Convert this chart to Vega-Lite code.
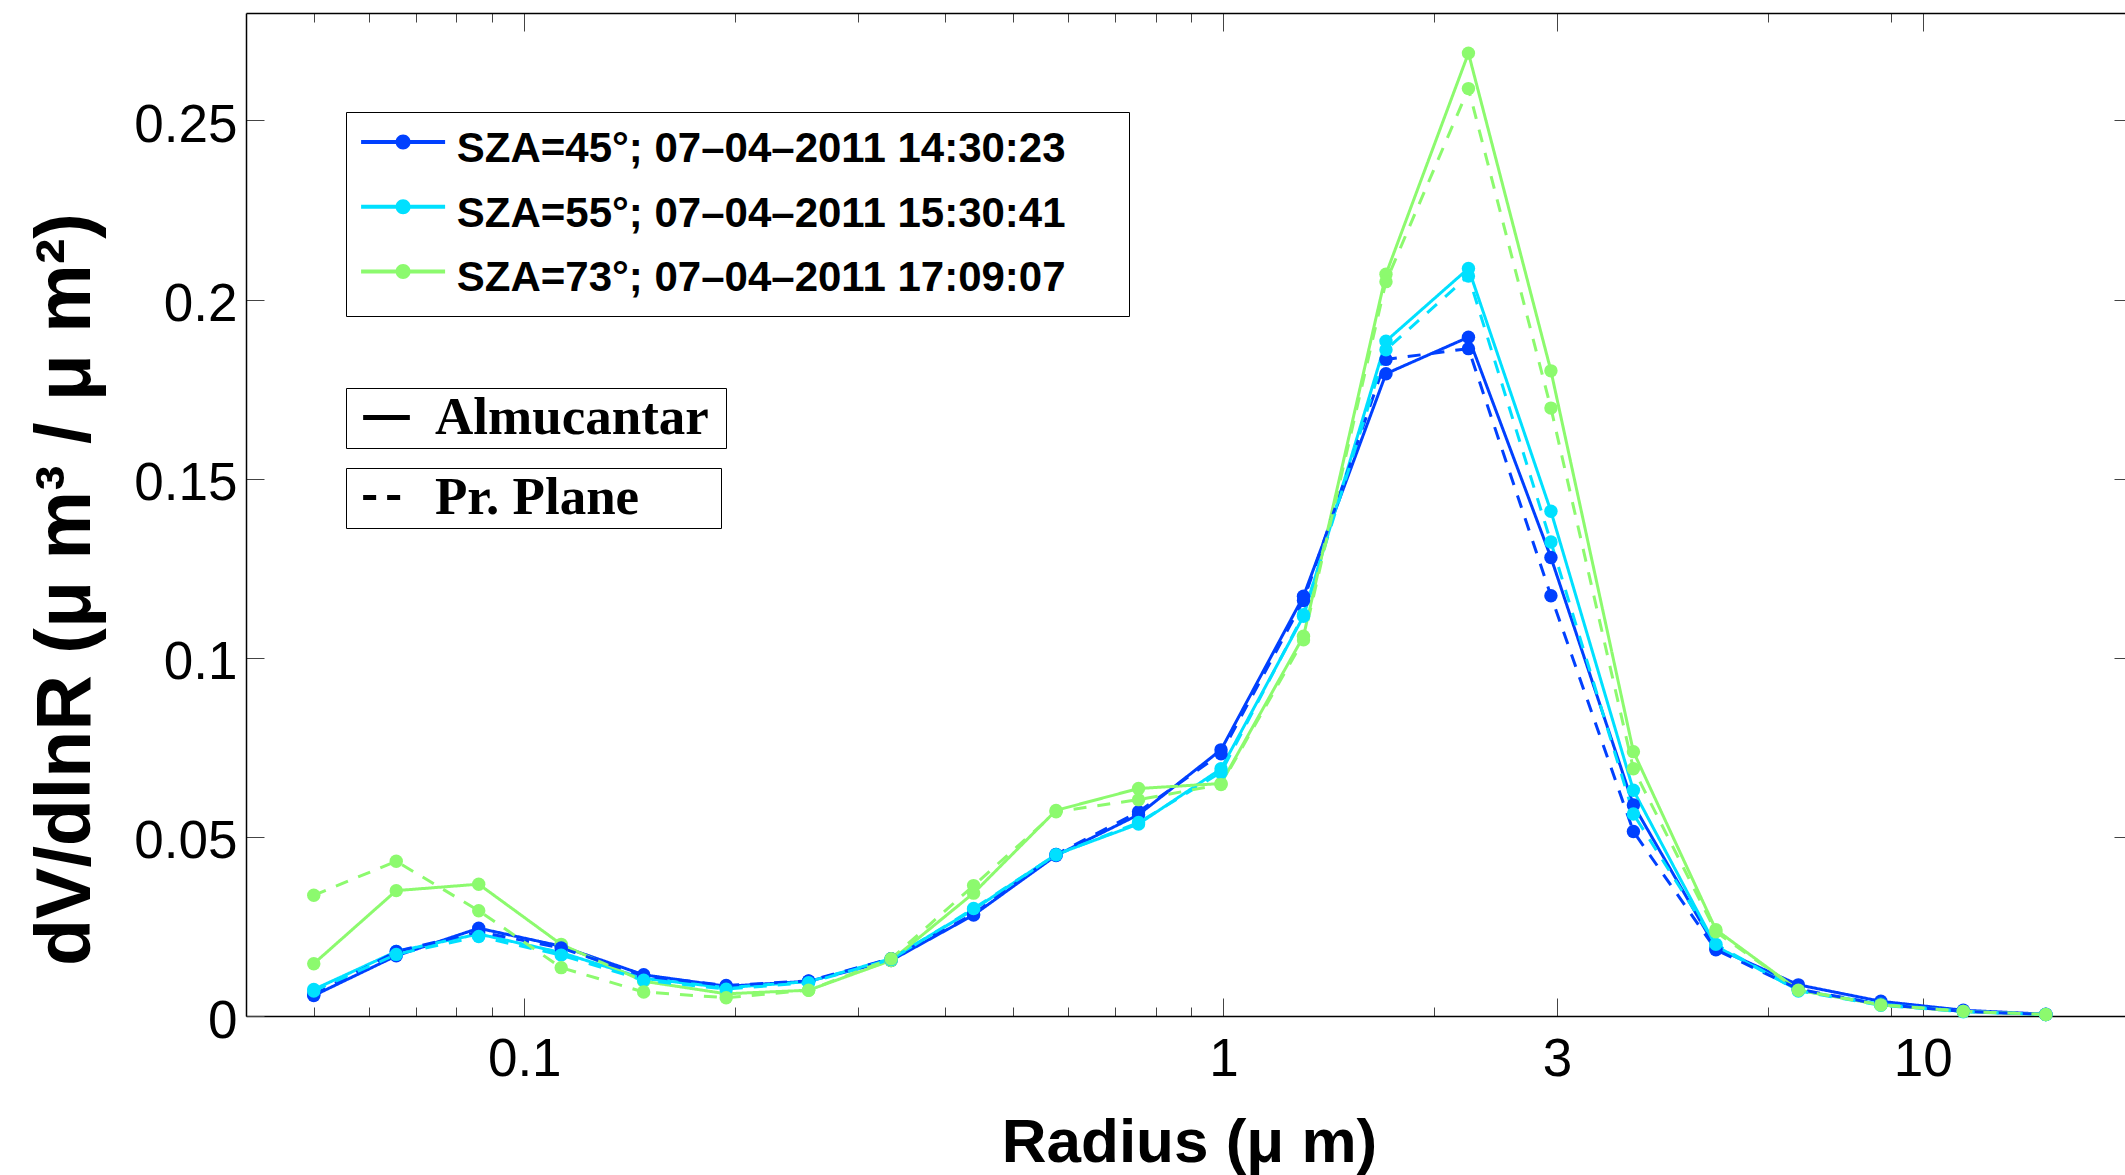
{
"$schema": "https://vega.github.io/schema/vega-lite/v6.json",
"width": 1879, "height": 1003,
"autosize": {"type": "none"},
"padding": {"left": 246, "top": 13, "right": 0, "bottom": 159},
"background": "white",
"config": {"view": {"stroke": null}, "axis": {"grid": false}},
"data": {"values": [
{"r":0.05,"v":0.0057,"sza":"SZA=45°; 07–04–2011 14:30:23","m":"Almucantar"},
{"r":0.065604,"v":0.0168,"sza":"SZA=45°; 07–04–2011 14:30:23","m":"Almucantar"},
{"r":0.086077,"v":0.0245,"sza":"SZA=45°; 07–04–2011 14:30:23","m":"Almucantar"},
{"r":0.112939,"v":0.0195,"sza":"SZA=45°; 07–04–2011 14:30:23","m":"Almucantar"},
{"r":0.148184,"v":0.0115,"sza":"SZA=45°; 07–04–2011 14:30:23","m":"Almucantar"},
{"r":0.194429,"v":0.0083,"sza":"SZA=45°; 07–04–2011 14:30:23","m":"Almucantar"},
{"r":0.255105,"v":0.0097,"sza":"SZA=45°; 07–04–2011 14:30:23","m":"Almucantar"},
{"r":0.334716,"v":0.0155,"sza":"SZA=45°; 07–04–2011 14:30:23","m":"Almucantar"},
{"r":0.439173,"v":0.0282,"sza":"SZA=45°; 07–04–2011 14:30:23","m":"Almucantar"},
{"r":0.576227,"v":0.0448,"sza":"SZA=45°; 07–04–2011 14:30:23","m":"Almucantar"},
{"r":0.756052,"v":0.0562,"sza":"SZA=45°; 07–04–2011 14:30:23","m":"Almucantar"},
{"r":0.991996,"v":0.0743,"sza":"SZA=45°; 07–04–2011 14:30:23","m":"Almucantar"},
{"r":1.301571,"v":0.1172,"sza":"SZA=45°; 07–04–2011 14:30:23","m":"Almucantar"},
{"r":1.707757,"v":0.1793,"sza":"SZA=45°; 07–04–2011 14:30:23","m":"Almucantar"},
{"r":2.240702,"v":0.1895,"sza":"SZA=45°; 07–04–2011 14:30:23","m":"Almucantar"},
{"r":2.939966,"v":0.1280,"sza":"SZA=45°; 07–04–2011 14:30:23","m":"Almucantar"},
{"r":3.857452,"v":0.0589,"sza":"SZA=45°; 07–04–2011 14:30:23","m":"Almucantar"},
{"r":5.06126,"v":0.0190,"sza":"SZA=45°; 07–04–2011 14:30:23","m":"Almucantar"},
{"r":6.640745,"v":0.0087,"sza":"SZA=45°; 07–04–2011 14:30:23","m":"Almucantar"},
{"r":8.713145,"v":0.0041,"sza":"SZA=45°; 07–04–2011 14:30:23","m":"Almucantar"},
{"r":11.432287,"v":0.0016,"sza":"SZA=45°; 07–04–2011 14:30:23","m":"Almucantar"},
{"r":15.0,"v":0.0005,"sza":"SZA=45°; 07–04–2011 14:30:23","m":"Almucantar"},
{"r":0.05,"v":0.0074,"sza":"SZA=55°; 07–04–2011 15:30:41","m":"Almucantar"},
{"r":0.065604,"v":0.0180,"sza":"SZA=55°; 07–04–2011 15:30:41","m":"Almucantar"},
{"r":0.086077,"v":0.0229,"sza":"SZA=55°; 07–04–2011 15:30:41","m":"Almucantar"},
{"r":0.112939,"v":0.0177,"sza":"SZA=55°; 07–04–2011 15:30:41","m":"Almucantar"},
{"r":0.148184,"v":0.0105,"sza":"SZA=55°; 07–04–2011 15:30:41","m":"Almucantar"},
{"r":0.194429,"v":0.0079,"sza":"SZA=55°; 07–04–2011 15:30:41","m":"Almucantar"},
{"r":0.255105,"v":0.0096,"sza":"SZA=55°; 07–04–2011 15:30:41","m":"Almucantar"},
{"r":0.334716,"v":0.0160,"sza":"SZA=55°; 07–04–2011 15:30:41","m":"Almucantar"},
{"r":0.439173,"v":0.0297,"sza":"SZA=55°; 07–04–2011 15:30:41","m":"Almucantar"},
{"r":0.576227,"v":0.0451,"sza":"SZA=55°; 07–04–2011 15:30:41","m":"Almucantar"},
{"r":0.756052,"v":0.0536,"sza":"SZA=55°; 07–04–2011 15:30:41","m":"Almucantar"},
{"r":0.991996,"v":0.0690,"sza":"SZA=55°; 07–04–2011 15:30:41","m":"Almucantar"},
{"r":1.301571,"v":0.1116,"sza":"SZA=55°; 07–04–2011 15:30:41","m":"Almucantar"},
{"r":1.707757,"v":0.1884,"sza":"SZA=55°; 07–04–2011 15:30:41","m":"Almucantar"},
{"r":2.240702,"v":0.2087,"sza":"SZA=55°; 07–04–2011 15:30:41","m":"Almucantar"},
{"r":2.939966,"v":0.1409,"sza":"SZA=55°; 07–04–2011 15:30:41","m":"Almucantar"},
{"r":3.857452,"v":0.0630,"sza":"SZA=55°; 07–04–2011 15:30:41","m":"Almucantar"},
{"r":5.06126,"v":0.0195,"sza":"SZA=55°; 07–04–2011 15:30:41","m":"Almucantar"},
{"r":6.640745,"v":0.0072,"sza":"SZA=55°; 07–04–2011 15:30:41","m":"Almucantar"},
{"r":8.713145,"v":0.0033,"sza":"SZA=55°; 07–04–2011 15:30:41","m":"Almucantar"},
{"r":11.432287,"v":0.0013,"sza":"SZA=55°; 07–04–2011 15:30:41","m":"Almucantar"},
{"r":15.0,"v":0.0004,"sza":"SZA=55°; 07–04–2011 15:30:41","m":"Almucantar"},
{"r":0.05,"v":0.0146,"sza":"SZA=73°; 07–04–2011 17:09:07","m":"Almucantar"},
{"r":0.065604,"v":0.0350,"sza":"SZA=73°; 07–04–2011 17:09:07","m":"Almucantar"},
{"r":0.086077,"v":0.0368,"sza":"SZA=73°; 07–04–2011 17:09:07","m":"Almucantar"},
{"r":0.112939,"v":0.0200,"sza":"SZA=73°; 07–04–2011 17:09:07","m":"Almucantar"},
{"r":0.148184,"v":0.0097,"sza":"SZA=73°; 07–04–2011 17:09:07","m":"Almucantar"},
{"r":0.194429,"v":0.0062,"sza":"SZA=73°; 07–04–2011 17:09:07","m":"Almucantar"},
{"r":0.255105,"v":0.0072,"sza":"SZA=73°; 07–04–2011 17:09:07","m":"Almucantar"},
{"r":0.334716,"v":0.0155,"sza":"SZA=73°; 07–04–2011 17:09:07","m":"Almucantar"},
{"r":0.439173,"v":0.0343,"sza":"SZA=73°; 07–04–2011 17:09:07","m":"Almucantar"},
{"r":0.576227,"v":0.0574,"sza":"SZA=73°; 07–04–2011 17:09:07","m":"Almucantar"},
{"r":0.756052,"v":0.0635,"sza":"SZA=73°; 07–04–2011 17:09:07","m":"Almucantar"},
{"r":0.991996,"v":0.0649,"sza":"SZA=73°; 07–04–2011 17:09:07","m":"Almucantar"},
{"r":1.301571,"v":0.1060,"sza":"SZA=73°; 07–04–2011 17:09:07","m":"Almucantar"},
{"r":1.707757,"v":0.2071,"sza":"SZA=73°; 07–04–2011 17:09:07","m":"Almucantar"},
{"r":2.240702,"v":0.2688,"sza":"SZA=73°; 07–04–2011 17:09:07","m":"Almucantar"},
{"r":2.939966,"v":0.1801,"sza":"SZA=73°; 07–04–2011 17:09:07","m":"Almucantar"},
{"r":3.857452,"v":0.0738,"sza":"SZA=73°; 07–04–2011 17:09:07","m":"Almucantar"},
{"r":5.06126,"v":0.0241,"sza":"SZA=73°; 07–04–2011 17:09:07","m":"Almucantar"},
{"r":6.640745,"v":0.0072,"sza":"SZA=73°; 07–04–2011 17:09:07","m":"Almucantar"},
{"r":8.713145,"v":0.0031,"sza":"SZA=73°; 07–04–2011 17:09:07","m":"Almucantar"},
{"r":11.432287,"v":0.0013,"sza":"SZA=73°; 07–04–2011 17:09:07","m":"Almucantar"},
{"r":15.0,"v":0.0004,"sza":"SZA=73°; 07–04–2011 17:09:07","m":"Almucantar"},
{"r":0.05,"v":0.0060,"sza":"SZA=45°; 07–04–2011 14:30:23","m":"Pr. Plane"},
{"r":0.065604,"v":0.0180,"sza":"SZA=45°; 07–04–2011 14:30:23","m":"Pr. Plane"},
{"r":0.086077,"v":0.0235,"sza":"SZA=45°; 07–04–2011 14:30:23","m":"Pr. Plane"},
{"r":0.112939,"v":0.0190,"sza":"SZA=45°; 07–04–2011 14:30:23","m":"Pr. Plane"},
{"r":0.148184,"v":0.0112,"sza":"SZA=45°; 07–04–2011 14:30:23","m":"Pr. Plane"},
{"r":0.194429,"v":0.0085,"sza":"SZA=45°; 07–04–2011 14:30:23","m":"Pr. Plane"},
{"r":0.255105,"v":0.0098,"sza":"SZA=45°; 07–04–2011 14:30:23","m":"Pr. Plane"},
{"r":0.334716,"v":0.0160,"sza":"SZA=45°; 07–04–2011 14:30:23","m":"Pr. Plane"},
{"r":0.439173,"v":0.0285,"sza":"SZA=45°; 07–04–2011 14:30:23","m":"Pr. Plane"},
{"r":0.576227,"v":0.0451,"sza":"SZA=45°; 07–04–2011 14:30:23","m":"Pr. Plane"},
{"r":0.756052,"v":0.0570,"sza":"SZA=45°; 07–04–2011 14:30:23","m":"Pr. Plane"},
{"r":0.991996,"v":0.0732,"sza":"SZA=45°; 07–04–2011 14:30:23","m":"Pr. Plane"},
{"r":1.301571,"v":0.1160,"sza":"SZA=45°; 07–04–2011 14:30:23","m":"Pr. Plane"},
{"r":1.707757,"v":0.1833,"sza":"SZA=45°; 07–04–2011 14:30:23","m":"Pr. Plane"},
{"r":2.240702,"v":0.1863,"sza":"SZA=45°; 07–04–2011 14:30:23","m":"Pr. Plane"},
{"r":2.939966,"v":0.1173,"sza":"SZA=45°; 07–04–2011 14:30:23","m":"Pr. Plane"},
{"r":3.857452,"v":0.0515,"sza":"SZA=45°; 07–04–2011 14:30:23","m":"Pr. Plane"},
{"r":5.06126,"v":0.0185,"sza":"SZA=45°; 07–04–2011 14:30:23","m":"Pr. Plane"},
{"r":6.640745,"v":0.0075,"sza":"SZA=45°; 07–04–2011 14:30:23","m":"Pr. Plane"},
{"r":8.713145,"v":0.0032,"sza":"SZA=45°; 07–04–2011 14:30:23","m":"Pr. Plane"},
{"r":11.432287,"v":0.0013,"sza":"SZA=45°; 07–04–2011 14:30:23","m":"Pr. Plane"},
{"r":15.0,"v":0.0004,"sza":"SZA=45°; 07–04–2011 14:30:23","m":"Pr. Plane"},
{"r":0.05,"v":0.0070,"sza":"SZA=55°; 07–04–2011 15:30:41","m":"Pr. Plane"},
{"r":0.065604,"v":0.0172,"sza":"SZA=55°; 07–04–2011 15:30:41","m":"Pr. Plane"},
{"r":0.086077,"v":0.0222,"sza":"SZA=55°; 07–04–2011 15:30:41","m":"Pr. Plane"},
{"r":0.112939,"v":0.0170,"sza":"SZA=55°; 07–04–2011 15:30:41","m":"Pr. Plane"},
{"r":0.148184,"v":0.0100,"sza":"SZA=55°; 07–04–2011 15:30:41","m":"Pr. Plane"},
{"r":0.194429,"v":0.0075,"sza":"SZA=55°; 07–04–2011 15:30:41","m":"Pr. Plane"},
{"r":0.255105,"v":0.0093,"sza":"SZA=55°; 07–04–2011 15:30:41","m":"Pr. Plane"},
{"r":0.334716,"v":0.0158,"sza":"SZA=55°; 07–04–2011 15:30:41","m":"Pr. Plane"},
{"r":0.439173,"v":0.0300,"sza":"SZA=55°; 07–04–2011 15:30:41","m":"Pr. Plane"},
{"r":0.576227,"v":0.0450,"sza":"SZA=55°; 07–04–2011 15:30:41","m":"Pr. Plane"},
{"r":0.756052,"v":0.0540,"sza":"SZA=55°; 07–04–2011 15:30:41","m":"Pr. Plane"},
{"r":0.991996,"v":0.0680,"sza":"SZA=55°; 07–04–2011 15:30:41","m":"Pr. Plane"},
{"r":1.301571,"v":0.1120,"sza":"SZA=55°; 07–04–2011 15:30:41","m":"Pr. Plane"},
{"r":1.707757,"v":0.1860,"sza":"SZA=55°; 07–04–2011 15:30:41","m":"Pr. Plane"},
{"r":2.240702,"v":0.2066,"sza":"SZA=55°; 07–04–2011 15:30:41","m":"Pr. Plane"},
{"r":2.939966,"v":0.1323,"sza":"SZA=55°; 07–04–2011 15:30:41","m":"Pr. Plane"},
{"r":3.857452,"v":0.0564,"sza":"SZA=55°; 07–04–2011 15:30:41","m":"Pr. Plane"},
{"r":5.06126,"v":0.0200,"sza":"SZA=55°; 07–04–2011 15:30:41","m":"Pr. Plane"},
{"r":6.640745,"v":0.0070,"sza":"SZA=55°; 07–04–2011 15:30:41","m":"Pr. Plane"},
{"r":8.713145,"v":0.0030,"sza":"SZA=55°; 07–04–2011 15:30:41","m":"Pr. Plane"},
{"r":11.432287,"v":0.0012,"sza":"SZA=55°; 07–04–2011 15:30:41","m":"Pr. Plane"},
{"r":15.0,"v":0.0004,"sza":"SZA=55°; 07–04–2011 15:30:41","m":"Pr. Plane"},
{"r":0.05,"v":0.0337,"sza":"SZA=73°; 07–04–2011 17:09:07","m":"Pr. Plane"},
{"r":0.065604,"v":0.0432,"sza":"SZA=73°; 07–04–2011 17:09:07","m":"Pr. Plane"},
{"r":0.086077,"v":0.0294,"sza":"SZA=73°; 07–04–2011 17:09:07","m":"Pr. Plane"},
{"r":0.112939,"v":0.0135,"sza":"SZA=73°; 07–04–2011 17:09:07","m":"Pr. Plane"},
{"r":0.148184,"v":0.0067,"sza":"SZA=73°; 07–04–2011 17:09:07","m":"Pr. Plane"},
{"r":0.194429,"v":0.0051,"sza":"SZA=73°; 07–04–2011 17:09:07","m":"Pr. Plane"},
{"r":0.255105,"v":0.0072,"sza":"SZA=73°; 07–04–2011 17:09:07","m":"Pr. Plane"},
{"r":0.334716,"v":0.0160,"sza":"SZA=73°; 07–04–2011 17:09:07","m":"Pr. Plane"},
{"r":0.439173,"v":0.0364,"sza":"SZA=73°; 07–04–2011 17:09:07","m":"Pr. Plane"},
{"r":0.576227,"v":0.0570,"sza":"SZA=73°; 07–04–2011 17:09:07","m":"Pr. Plane"},
{"r":0.756052,"v":0.0604,"sza":"SZA=73°; 07–04–2011 17:09:07","m":"Pr. Plane"},
{"r":0.991996,"v":0.0646,"sza":"SZA=73°; 07–04–2011 17:09:07","m":"Pr. Plane"},
{"r":1.301571,"v":0.1050,"sza":"SZA=73°; 07–04–2011 17:09:07","m":"Pr. Plane"},
{"r":1.707757,"v":0.2050,"sza":"SZA=73°; 07–04–2011 17:09:07","m":"Pr. Plane"},
{"r":2.240702,"v":0.2589,"sza":"SZA=73°; 07–04–2011 17:09:07","m":"Pr. Plane"},
{"r":2.939966,"v":0.1697,"sza":"SZA=73°; 07–04–2011 17:09:07","m":"Pr. Plane"},
{"r":3.857452,"v":0.0690,"sza":"SZA=73°; 07–04–2011 17:09:07","m":"Pr. Plane"},
{"r":5.06126,"v":0.0235,"sza":"SZA=73°; 07–04–2011 17:09:07","m":"Pr. Plane"},
{"r":6.640745,"v":0.0072,"sza":"SZA=73°; 07–04–2011 17:09:07","m":"Pr. Plane"},
{"r":8.713145,"v":0.0031,"sza":"SZA=73°; 07–04–2011 17:09:07","m":"Pr. Plane"},
{"r":11.432287,"v":0.0013,"sza":"SZA=73°; 07–04–2011 17:09:07","m":"Pr. Plane"},
{"r":15.0,"v":0.0004,"sza":"SZA=73°; 07–04–2011 17:09:07","m":"Pr. Plane"}
]},
"resolve": {"scale": {"strokeDash": "independent"}, "axis": {"x": "independent", "y": "independent"}},
"layer": [
{
"transform": [{"filter": "datum.m === 'Almucantar'"}],
"mark": {"type": "line", "strokeWidth": 3},
"encoding": {
"x": {"field": "r", "type": "quantitative", "scale": {"type": "log", "domain": [0.04, 19.47], "nice": false},
 "axis": {"orient": "bottom", "values": [0.05,0.06,0.07,0.08,0.09,0.1,0.2,0.3,0.4,0.5,0.6,0.7,0.8,0.9,1,2,3,6,9,10],
  "labelExpr": "indexof([0.1,1,3,10], datum.value) >= 0 ? '' + datum.value : ''",
  "tickSize": {"condition": {"test": "indexof([0.1,1,3,10], datum.value) >= 0", "value": -18}, "value": -9},
  "tickColor": "#444444", "tickWidth": 1, "domainColor": "black", "domainWidth": 1.5,
  "labelFont": "Liberation Sans", "labelFontSize": 53, "labelColor": "black", "labelPadding": 35, "labelFlush": false, "labelOverlap": false, "labelBaseline": "top",
  "title": "Radius (μ m)", "titleFont": "Liberation Sans", "titleFontWeight": "bold", "titleFontSize": 62, "titleColor": "black",
  "titleX": 943, "titleY": 145, "titleBaseline": "alphabetic", "titleAlign": "center", "grid": false}},
"y": {"field": "v", "type": "quantitative", "scale": {"domain": [0, 0.28], "nice": false, "zero": false},
 "axis": {"orient": "left", "values": [0, 0.05, 0.1, 0.15, 0.2, 0.25], "labelExpr": "'' + datum.value",
  "tickSize": -18, "tickColor": "#444444", "tickWidth": 1, "domainColor": "black", "domainWidth": 1.5,
  "labelFont": "Liberation Sans", "labelFontSize": 53, "labelColor": "black", "labelPadding": 27, "labelOffset": 5, "labelBaseline": "middle", "labelAlign": "right",
  "title": "dV/dlnR (μ m³ / μ m²)", "titleFont": "Liberation Sans", "titleFontWeight": "bold", "titleFontSize": 77, "titleColor": "black",
  "titleX": -157, "titleY": 576, "titleAngle": 270, "titleBaseline": "alphabetic", "titleAlign": "center", "grid": false}},
"color": {"field": "sza", "type": "nominal",
 "scale": {"domain": ["SZA=45°; 07–04–2011 14:30:23", "SZA=55°; 07–04–2011 15:30:41", "SZA=73°; 07–04–2011 17:09:07"], "range": ["#0040FF", "#00E0FF", "#8CFA6E"]},
 "legend": {"title": null, "orient": "none", "legendX": 100, "legendY": 99, "strokeColor": "black", "fillColor": "white", "padding": 16, "rowPadding": 22.7,
  "symbolType": "M-4.2,-0.9H4.2V-0.5H-4.2Z M-0.75,-0.7A0.75,0.75 0 1,1 0.75,-0.7A0.75,0.75 0 1,1 -0.75,-0.7Z",
  "symbolSize": 400, "symbolStrokeWidth": 0, "symbolOpacity": 1, "symbolOffset": 20.1, "labelOffset": 32.7,
  "labelFont": "Liberation Sans", "labelFontWeight": "bold", "labelFontSize": 42, "labelColor": "black", "labelLimit": 3000, "labelExpr": "datum.label + '\u00a0\u00a0\u00a0\u00a0\u200b'",
  "encode": {"symbols": {"update": {"fill": {"scale": "color", "field": "value"}, "stroke": {"value": "transparent"}, "opacity": {"value": 1}}}}}},
"strokeDash": {"field": "m", "type": "nominal", "scale": {"domain": ["Almucantar"], "range": [[1, 0]]},
 "legend": {"title": null, "orient": "none", "legendX": 100, "legendY": 375, "strokeColor": "black", "fillColor": "white", "padding": 3,
  "symbolType": "stroke", "symbolSize": 2181, "symbolStrokeWidth": 5, "symbolStrokeColor": "black", "symbolOffset": 11, "labelOffset": 22,
  "labelFont": "Liberation Serif", "labelFontWeight": "bold", "labelFontSize": 53, "labelColor": "black", "labelLimit": 3000, "labelExpr": "datum.label + '\u00a0\u200b'",
  "encode": {"symbols": {"update": {"stroke": {"value": "black"}, "opacity": {"value": 1}}}}}}
}
},
{
"transform": [{"filter": "datum.m === 'Pr. Plane'"}],
"mark": {"type": "line", "strokeWidth": 3},
"encoding": {
"x": {"field": "r", "type": "quantitative", "scale": {"type": "log", "domain": [0.04, 19.47], "nice": false},
 "axis": {"orient": "top", "values": [0.05,0.06,0.07,0.08,0.09,0.1,0.2,0.3,0.4,0.5,0.6,0.7,0.8,0.9,1,2,3,6,9,10],
  "labels": false,
  "tickSize": {"condition": {"test": "indexof([0.1,1,3,10], datum.value) >= 0", "value": -18}, "value": -9},
  "tickColor": "#444444", "tickWidth": 1, "domainColor": "black", "domainWidth": 1.5, "title": null, "grid": false}},
"y": {"field": "v", "type": "quantitative", "scale": {"domain": [0, 0.28], "nice": false, "zero": false},
 "axis": {"orient": "right", "values": [0.05, 0.1, 0.15, 0.2, 0.25], "labels": false, "domain": false,
  "tickSize": -11, "tickColor": "#444444", "tickWidth": 1, "title": null, "grid": false}},
"color": {"field": "sza", "type": "nominal",
 "scale": {"domain": ["SZA=45°; 07–04–2011 14:30:23", "SZA=55°; 07–04–2011 15:30:41", "SZA=73°; 07–04–2011 17:09:07"], "range": ["#0040FF", "#00E0FF", "#8CFA6E"]},
 "legend": {"title": null, "orient": "none", "legendX": 100, "legendY": 99, "strokeColor": "black", "fillColor": "white", "padding": 16, "rowPadding": 22.7,
  "symbolType": "M-4.2,-0.9H4.2V-0.5H-4.2Z M-0.75,-0.7A0.75,0.75 0 1,1 0.75,-0.7A0.75,0.75 0 1,1 -0.75,-0.7Z",
  "symbolSize": 400, "symbolStrokeWidth": 0, "symbolOpacity": 1, "symbolOffset": 20.1, "labelOffset": 32.7,
  "labelFont": "Liberation Sans", "labelFontWeight": "bold", "labelFontSize": 42, "labelColor": "black", "labelLimit": 3000, "labelExpr": "datum.label + '\u00a0\u00a0\u00a0\u00a0\u200b'",
  "encode": {"symbols": {"update": {"fill": {"scale": "color", "field": "value"}, "stroke": {"value": "transparent"}, "opacity": {"value": 1}}}}}},
"strokeDash": {"field": "m", "type": "nominal", "scale": {"domain": ["Pr. Plane"], "range": [[13, 11]]},
 "legend": {"title": null, "orient": "none", "legendX": 100, "legendY": 455, "strokeColor": "black", "fillColor": "white", "padding": 3,
  "symbolType": "stroke", "symbolSize": 2181, "symbolStrokeWidth": 5, "symbolStrokeColor": "black", "symbolOffset": 11, "labelOffset": 22,
  "labelFont": "Liberation Serif", "labelFontWeight": "bold", "labelFontSize": 53, "labelColor": "black", "labelLimit": 3000, "labelExpr": "datum.label + '\u2800\u2800'",
  "encode": {"symbols": {"update": {"stroke": {"value": "black"}, "opacity": {"value": 1}}}}}}
}
},
{
"mark": {"type": "point", "filled": true, "size": 180, "opacity": 1},
"encoding": {
"x": {"field": "r", "type": "quantitative", "scale": {"type": "log", "domain": [0.04, 19.47], "nice": false}, "axis": null},
"y": {"field": "v", "type": "quantitative", "scale": {"domain": [0, 0.28], "nice": false, "zero": false}, "axis": null},
"color": {"field": "sza", "type": "nominal",
 "scale": {"domain": ["SZA=45°; 07–04–2011 14:30:23", "SZA=55°; 07–04–2011 15:30:41", "SZA=73°; 07–04–2011 17:09:07"], "range": ["#0040FF", "#00E0FF", "#8CFA6E"]},
 "legend": {"title": null, "orient": "none", "legendX": 100, "legendY": 99, "strokeColor": "black", "fillColor": "white", "padding": 16, "rowPadding": 22.7,
  "symbolType": "M-4.2,-0.9H4.2V-0.5H-4.2Z M-0.75,-0.7A0.75,0.75 0 1,1 0.75,-0.7A0.75,0.75 0 1,1 -0.75,-0.7Z",
  "symbolSize": 400, "symbolStrokeWidth": 0, "symbolOpacity": 1, "symbolOffset": 20.1, "labelOffset": 32.7,
  "labelFont": "Liberation Sans", "labelFontWeight": "bold", "labelFontSize": 42, "labelColor": "black", "labelLimit": 3000, "labelExpr": "datum.label + '\u00a0\u00a0\u00a0\u00a0\u200b'",
  "encode": {"symbols": {"update": {"fill": {"scale": "color", "field": "value"}, "stroke": {"value": "transparent"}, "opacity": {"value": 1}}}}}}
}
}
]
}
